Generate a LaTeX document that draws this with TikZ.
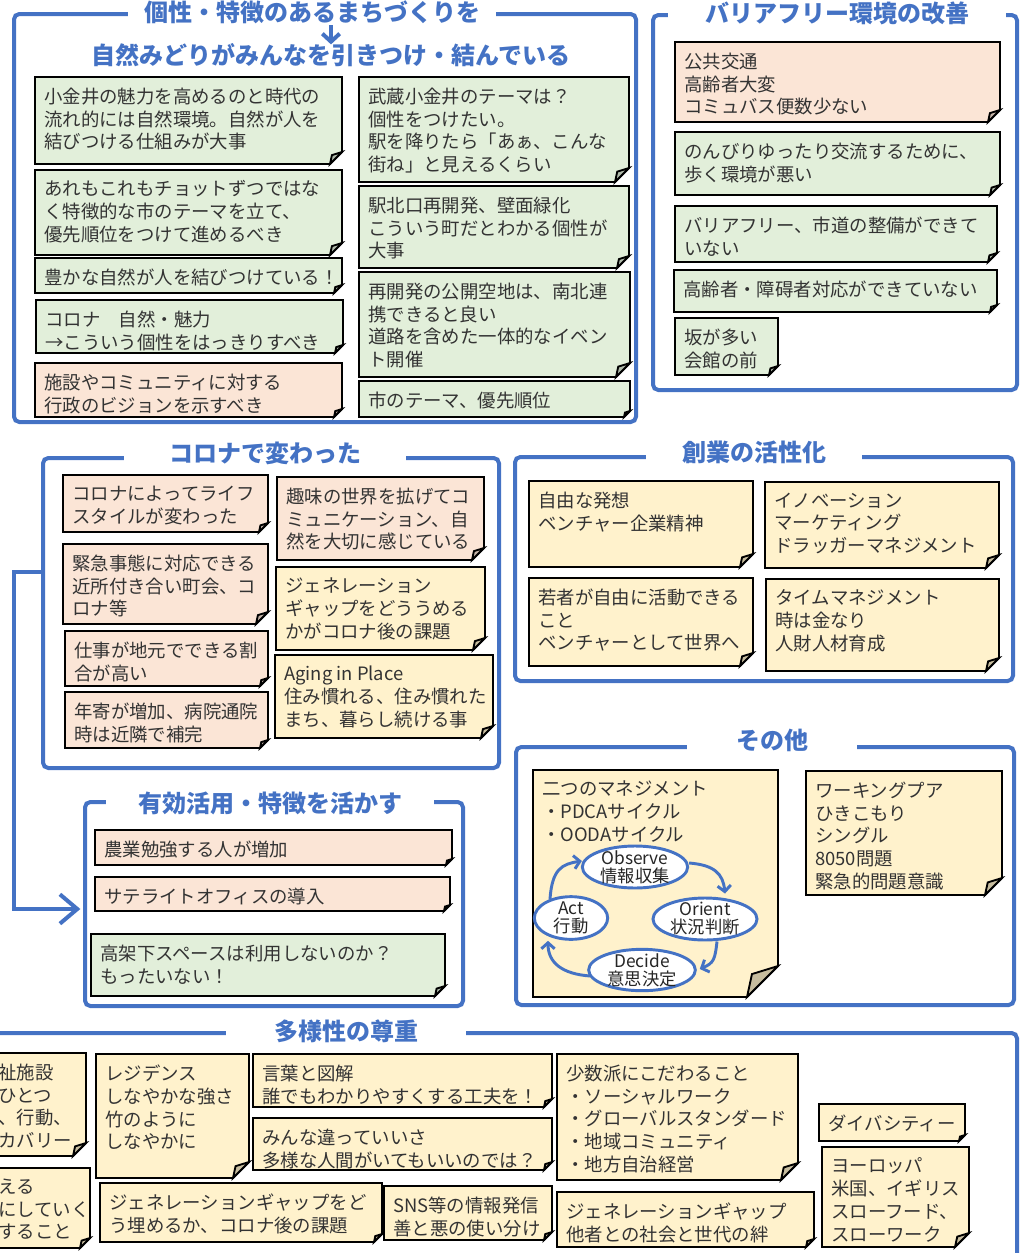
\documentclass[tikz,border=0pt]{standalone}
\usepackage{fontspec}
\usepackage{xcolor}
\usepackage{tikz}
\usetikzlibrary{shapes.geometric}
\usetikzlibrary{arrows.meta}
\usetikzlibrary{fit}
\usetikzlibrary{calc}

\newfontfamily\jp{Noto Sans CJK JP}
\newcommand{\notefont}{\jp\fontsize{13.8}{17.1}\selectfont}
\newcommand{\titlefont}{\jp\bfseries\fontsize{18}{21}\selectfont}
\newcommand{\phasefont}{\jp\fontsize{13}{13.5}\selectfont}

\definecolor{frameblue}{RGB}{68,114,196}
\definecolor{notegreen}{RGB}{226,239,218}
\definecolor{notepink}{RGB}{251,229,214}
\definecolor{noteyellow}{RGB}{255,242,204}

\tikzset{
  groupbox/.style={draw=frameblue, line width=3pt, rounded corners=4pt, inner sep=0pt},
  grouptitle/.style={fill=white, inner ysep=1pt, text=frameblue, font=\titlefont},
  notebody/.style={draw=black, line width=1.4pt, line join=miter},
  notetext/.style={anchor=north west, inner sep=0pt, align=left, text=black!80, font=\notefont},
  phase/.style={ellipse, draw=frameblue, line width=2.2pt, fill=white, inner xsep=0pt,
    inner ysep=-1.5pt, align=center, text=black!85, font=\phasefont},
  ooda arrow/.style={draw=frameblue, line width=2.2pt, -{Straight Barb[length=4.5pt,width=10pt]}},
  link/.style={draw=frameblue, line width=3pt},
}

% sticky note: [fold]{name}{fill}{x1}{y1}{x2}{y2}{text}
\newcommand{\sticky}[8][10]{%
  \filldraw[notebody, fill=#3] (#4,#5) -- (#6,#5) -- (#6,#7-#1) -- (#6-#1,#7) -- (#4,#7) -- cycle;
  \filldraw[notebody, fill=#3!78!black] (#6,#7-#1) -- (#6-0.84*#1,#7-0.74*#1) -- (#6-#1,#7) -- cycle;
  \node[notetext] (#2) at (#4+9,#5+10.5) {#8};
}

\begin{document}
\begin{tikzpicture}[x=0.75pt, y=-0.75pt]
  \useasboundingbox (0,0) rectangle (1020,1253);
  \clip (0,0) rectangle (1020,1253);

  % Group frames
  \node[groupbox, fit={(14,14) (636,422)}] (grp1) {};
  \node[groupbox, fit={(653,15) (1017,390)}] (grp2) {};
  \node[groupbox, fit={(43,458) (499,768)}] (grp3) {};
  \node[groupbox, fit={(515,457) (1013,681)}] (grp4) {};
  \node[groupbox, fit={(516,747) (1014,1005)}] (grp5) {};
  \node[groupbox, fit={(85,802) (463,1006)}] (grp6) {};
  \node[groupbox, fit={(-30,1033) (1017,1300)}] (grp7) {};

  % Group titles
  \node[grouptitle, inner xsep=12pt] (ttl1) at (312,12) {個性・特徴のあるまちづくりを};
  \node[grouptitle, inner xsep=2pt] (ttl1b) at (331,55) {自然みどりがみんなを引きつけ・結んでいる};
  \node[grouptitle, inner xsep=28pt] (ttl2) at (837,13) {バリアフリー環境の改善};
  \node[grouptitle, inner xsep=34pt] (ttl3) at (265,453) {コロナで変わった};
  \node[grouptitle, inner xsep=27pt] (ttl4) at (754,452) {創業の活性化};
  \node[grouptitle, inner xsep=37pt] (ttl5) at (772,740) {その他};
  \node[grouptitle, inner xsep=24pt] (ttl6) at (270,803) {有効活用・特徴を活かす};
  \node[grouptitle, inner xsep=36pt] (ttl7) at (346,1031) {多様性の尊重};

  % Notes: individuality
  \sticky[12]{town1}{notegreen}{35}{77}{342}{164}{小金井の魅力を高めるのと時代の\\流れ的には自然環境。自然が人を\\結びつける仕組みが大事}
  \sticky[12]{town2}{notegreen}{35}{170}{342}{255}{あれもこれもチョットずつではな\\く特徴的な市のテーマを立て、\\優先順位をつけて進めるべき}
  \sticky[8]{town3}{notegreen}{35}{258}{342}{293}{豊かな自然が人を結びつけている！}
  \sticky[8]{town4}{notegreen}{36}{300}{343}{353}{コロナ　自然・魅力\\→こういう個性をはっきりすべき}
  \sticky[8]{town5}{notepink}{35}{363}{342}{417}{施設やコミュニティに対する\\行政のビジョンを示すべき}
  \sticky[14]{town6}{notegreen}{359}{77}{629}{182}{武蔵小金井のテーマは？\\個性をつけたい。\\駅を降りたら「あぁ、こんな\\街ね」と見えるくらい}
  \sticky[12]{town7}{notegreen}{359}{186}{629}{268}{駅北口再開発、壁面緑化\\こういう町だとわかる個性が\\大事}
  \sticky[14]{town8}{notegreen}{359}{272}{630}{377}{再開発の公開空地は、南北連\\携できると良い\\道路を含めた一体的なイベン\\ト開催}
  \sticky[6]{town9}{notegreen}{359}{381}{630}{417}{市のテーマ、優先順位}

  % Notes: barrier free
  \sticky[12]{barrier1}{notepink}{675}{42}{1000}{122}{公共交通\\高齢者大変\\コミュバス便数少ない}
  \sticky[10]{barrier2}{notegreen}{675}{132}{1000}{195}{のんびりゆったり交流するために、\\歩く環境が悪い}
  \sticky[9]{barrier3}{notegreen}{675}{206}{997}{262}{バリアフリー、市道の整備ができて\\いない}
  \sticky[7]{barrier4}{notegreen}{674}{270}{997}{312}{高齢者・障碍者対応ができていない}
  \sticky[9]{barrier5}{notegreen}{675}{318}{778}{375}{坂が多い\\会館の前}

  % Notes: corona
  \sticky[9]{corona1}{notepink}{63}{475}{268}{532}{コロナによってライフ\\スタイルが変わった}
  \sticky[12]{corona2}{notepink}{63}{544}{268}{624}{緊急事態に対応できる\\近所付き合い町会、コ\\ロナ等}
  \sticky[8]{corona3}{notepink}{65}{631}{268}{686}{仕事が地元でできる割\\合が高い}
  \sticky[8]{corona4}{notepink}{65}{692}{268}{748}{年寄が増加、病院通院\\時は近隣で補完}
  \sticky[12]{corona5}{notepink}{277}{477}{484}{560}{趣味の世界を拡げてコ\\ミュニケーション、自\\然を大切に感じている}
  \sticky[12]{corona6}{noteyellow}{276}{567}{485}{650}{ジェネレーション\\ギャップをどううめる\\かがコロナ後の課題}
  \sticky[12]{corona7}{noteyellow}{275}{655}{493}{738}{Aging in Place\\住み慣れる、住み慣れた\\まち、暮らし続ける事}

  % Notes: start-ups
  \sticky[13]{startup1}{noteyellow}{529}{481}{753}{567}{自由な発想\\ベンチャー企業精神}
  \sticky[13]{startup2}{noteyellow}{765}{482}{999}{568}{イノベーション\\マーケティング\\ドラッガーマネジメント}
  \sticky[13]{startup3}{noteyellow}{529}{578}{753}{666}{若者が自由に活動できる\\こと\\ベンチャーとして世界へ}
  \sticky[13]{startup4}{noteyellow}{766}{579}{999}{671}{タイムマネジメント\\時は金なり\\人財人材育成}

  % Notes: others
  \sticky[31]{other1}{noteyellow}{533}{770}{778}{997}{二つのマネジメント\\・PDCAサイクル\\・OODAサイクル}
  \sticky[17]{other2}{noteyellow}{806}{771}{1002}{895}{ワーキングプア\\ひきこもり\\シングル\\8050問題\\緊急的問題意識}

  % OODA loop
  \node[phase, minimum width=79pt, minimum height=31.5pt] (obs) at (635,867) {Observe\\情報収集};
  \node[phase, minimum width=78pt, minimum height=31.5pt] (ori) at (705,919) {Orient\\状況判断};
  \node[phase, minimum width=80pt, minimum height=30pt] (dec) at (642,970) {Decide\\意思決定};
  \node[phase, minimum width=55pt, minimum height=32pt] (act) at (571,918) {Act\\行動};

  \draw[ooda arrow] ($(obs.east)+(0,-4)$) .. controls +(25,2) and +(-2,-20) .. ($(ori.north)+(20,-3)$);
  \draw[ooda arrow] ($(ori.south)+(12,0)$) .. controls +(-2,18) and +(14,-6) .. ($(dec.east)+(3,-1)$);
  \draw[ooda arrow] ($(dec.west)+(3,6)$) .. controls +(-28,-2) and +(0,22) .. ($(act.south)+(-23,0)$);
  \draw[ooda arrow] ($(act.north)+(-21,4)$) .. controls +(2,-30) and +(-20,3) .. ($(obs.west)+(1,-6)$);

  % Notes: effective use
  \sticky[6]{use1}{notepink}{95}{830}{452}{865}{農業勉強する人が増加}
  \sticky[6]{use2}{notepink}{95}{877}{450}{911}{サテライトオフィスの導入}
  \sticky[10]{use3}{notegreen}{91}{934}{445}{996}{高架下スペースは利用しないのか？\\もったいない！}

  % Notes: diversity
  \sticky[13]{div1}{noteyellow}{-11}{1053}{86}{1156}{祉施設\\ひとつ\\、行動、\\カバリー}
  \sticky[10]{div2}{noteyellow}{-11}{1168}{90}{1248}{える\\にしていく\\すること}
  \sticky[16]{div3}{noteyellow}{96}{1054}{249}{1178}{レジデンス\\しなやかな強さ\\竹のように\\しなやかに}
  \sticky[8]{div4}{noteyellow}{253}{1054}{552}{1107}{言葉と図解\\誰でもわかりやすくする工夫を！}
  \sticky[8]{div5}{noteyellow}{253}{1118}{552}{1170}{みんな違っていいさ\\多様な人間がいてもいいのでは？}
  \sticky[8]{div6}{noteyellow}{100}{1183}{382}{1242}{ジェネレーションギャップをど\\う埋めるか、コロナ後の課題}
  \sticky[8]{div7}{noteyellow}{384}{1186}{552}{1240}{SNS等の情報発信\\善と悪の使い分け}
  \sticky[17]{div8}{noteyellow}{557}{1054}{798}{1180}{少数派にこだわること\\・ソーシャルワーク\\・グローバルスタンダード\\・地域コミュニティ\\・地方自治経営}
  \sticky[8]{div9}{noteyellow}{557}{1192}{814}{1247}{ジェネレーションギャップ\\他者との社会と世代の絆}
  \sticky[6]{div10}{noteyellow}{819}{1104}{965}{1141}{ダイバシティー}
  \sticky[14]{div11}{noteyellow}{822}{1147}{969}{1247}{ヨーロッパ\\米国、イギリス\\スローフード、\\スローワーク}

  % Connect nodes
  \draw[link, -{Straight Barb[length=6pt,width=13pt]}] (ttl1.south -| ttl1b.north) -- ([yshift=-2pt]ttl1b.north);

  \coordinate (kink1) at (14,572);
  \coordinate (kink2) at (14,909);
  \draw[link, -{Straight Barb[length=13pt,width=22pt]}, shorten >=2pt]
    (grp3.west |- kink1) -- (kink1) -- (kink2) -- (grp6.west |- kink2);

\end{tikzpicture}
\end{document}
